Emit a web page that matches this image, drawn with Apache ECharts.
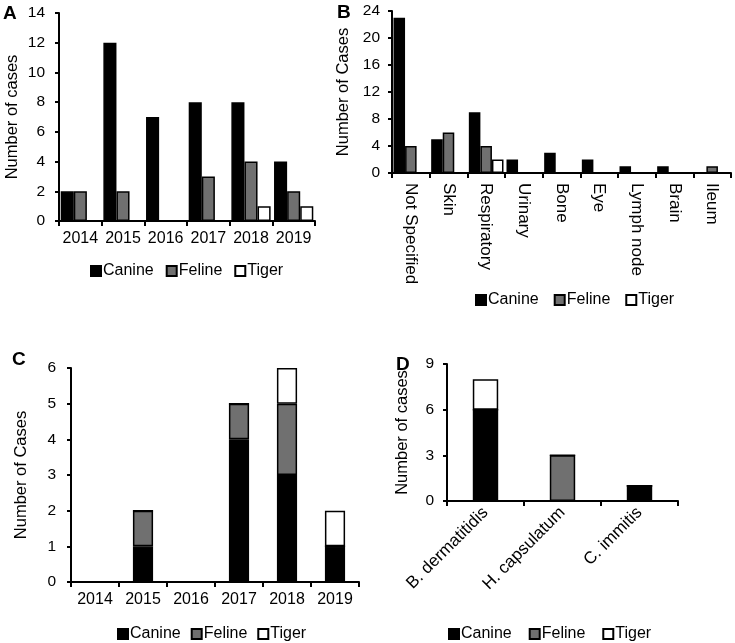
<!DOCTYPE html>
<html><head><meta charset="utf-8">
<script src="https://cdn.jsdelivr.net/npm/echarts@6/dist/echarts.min.js"></script>
<style>html,body{margin:0;padding:0;background:#fff}#c{width:735px;height:643px}</style>
</head><body><div id="c"></div>
<script>
// Panel A: cases per year
const yearsA = ['2014','2015','2016','2017','2018','2019'];
const canineA = [2, 12, 7, 8, 8, 4];
const felineA = [2, 2, 0, 3, 4, 2];
const tigerA  = [0, 0, 0, 0, 1, 1];
const ticksA = {min: 0, max: 14, interval: 2};

// Panel B: site of infection
const sitesB = ['Not Specified','Skin','Respiratory','Urinary','Bone','Eye','Lymph node','Brain','Ileum'];
const canineB = [23, 5, 9, 2, 3, 2, 1, 1, 0];
const felineB = [4, 6, 4, 0, 0, 0, 0, 0, 1];
const tigerB  = [0, 0, 2, 0, 0, 0, 0, 0, 0];
const ticksB = {min: 0, max: 24, interval: 4};

// Panel C: stacked per year
const yearsC = ['2014','2015','2016','2017','2018','2019'];
const canineC = [0, 1, 0, 4, 3, 1];
const felineC = [0, 1, 0, 1, 2, 0];
const tigerC  = [0, 0, 0, 0, 1, 1];
const ticksC = {min: 0, max: 6, interval: 1};

// Panel D: organism
const organismsD = ['B. dermatitidis','H. capsulatum','C. immitis'];
const canineD = [6, 0, 1];
const felineD = [0, 3, 0];
const tigerD  = [2, 0, 0];
const ticksD = {min: 0, max: 9, interval: 3};

const FONT = 'Liberation Sans, Arial, sans-serif';
const COLORS = {Canine: '#000000', Feline: '#707070', Tiger: '#ffffff'};
const axisLine = {show: true, lineStyle: {color: '#000', width: 2}};
const axisTick = {show: true, length: 5, lineStyle: {color: '#000', width: 2}};

function xAx(i, data, size, margin, rotate) {
  return {type: 'category', gridIndex: i, data: data,
    axisLine: axisLine, axisTick: axisTick,
    axisLabel: {color: '#000', fontSize: size, fontFamily: FONT, margin: margin, interval: 0, rotate: rotate || 0},
    splitLine: {show: false}};
}
function yAx(i, t, name, gap, margin) {
  return {type: 'value', gridIndex: i, min: t.min, max: t.max, interval: t.interval,
    name: name, nameLocation: 'middle', nameGap: gap,
    nameTextStyle: {color: '#000', fontSize: 16.5, fontFamily: FONT},
    axisLine: axisLine, axisTick: {show: true, length: 4, lineStyle: {color: '#000', width: 2}},
    axisLabel: {color: '#000', fontSize: 15.5, fontFamily: FONT, margin: margin},
    splitLine: {show: false}};
}
function bar(name, idx, data, opts) {
  return Object.assign({type: 'bar', name: name, xAxisIndex: idx, yAxisIndex: idx, data: data,
    itemStyle: {color: COLORS[name], borderColor: '#000', borderWidth: 1.5},
    emphasis: {disabled: true}, animation: false}, opts || {});
}
function legend(left, top, gap) {
  return {data: ['Canine','Feline','Tiger'], left: left, top: top, itemWidth: 10, itemHeight: 10,
    itemGap: gap, icon: 'rect', selectedMode: false, padding: 0,
    textStyle: {color: '#000', fontSize: 16, fontFamily: FONT, padding: [0,0,0,-3]}};
}

const chart = echarts.init(document.getElementById('c'), null, {renderer: 'canvas'});
chart.setOption({
  animation: false,
  backgroundColor: '#fff',
  textStyle: {fontFamily: FONT},
  grid: [
    {left: 59, top: 13, width: 256, height: 208},
    {left: 392, top: 11, width: 339, height: 162},
    {left: 71, top: 368, width: 288, height: 214},
    {left: 447, top: 364, width: 231, height: 137}
  ],
  xAxis: [
    xAx(0, yearsA, 16, 10),
    xAx(1, sitesB, 17, 10, -90),
    xAx(2, yearsC, 16, 10),
    xAx(3, organismsD, 17, 9, 45)
  ],
  yAxis: [
    yAx(0, ticksA, 'Number of cases', 38, 14),
    yAx(1, ticksB, 'Number of Cases', 40, 12),
    yAx(2, ticksC, 'Number of Cases', 41, 15),
    yAx(3, ticksD, 'Number of cases', 36, 13)
  ],
  legend: [legend(90, 263, 12), legend(475, 292, 15), legend(117, 626, 10), legend(448, 626, 17)],
  graphic: [
    {type: 'text', left: 3, top: 4, style: {text: 'A', font: 'bold 19px ' + FONT, fill: '#000'}},
    {type: 'text', left: 337, top: 3, style: {text: 'B', font: 'bold 19px ' + FONT, fill: '#000'}},
    {type: 'text', left: 12, top: 350, style: {text: 'C', font: 'bold 19px ' + FONT, fill: '#000'}},
    {type: 'text', left: 396, top: 355, style: {text: 'D', font: 'bold 19px ' + FONT, fill: '#000'}}
  ],
  series: [
    bar('Canine', 0, canineA, {barGap: '0%', barCategoryGap: '8%'}),
    bar('Feline', 0, felineA, {barGap: '0%', barCategoryGap: '8%'}),
    bar('Tiger', 0, tigerA, {barGap: '0%', barCategoryGap: '8%'}),
    bar('Canine', 1, canineB, {barGap: '0%', barCategoryGap: '8%'}),
    bar('Feline', 1, felineB, {barGap: '0%', barCategoryGap: '8%'}),
    bar('Tiger', 1, tigerB, {barGap: '0%', barCategoryGap: '8%'}),
    bar('Canine', 2, canineC, {stack: 'c', barWidth: '42%'}),
    bar('Feline', 2, felineC, {stack: 'c', barWidth: '42%'}),
    bar('Tiger', 2, tigerC, {stack: 'c', barWidth: '42%'}),
    bar('Canine', 3, canineD, {stack: 'd', barWidth: '33%'}),
    bar('Feline', 3, felineD, {stack: 'd', barWidth: '33%'}),
    bar('Tiger', 3, tigerD, {stack: 'd', barWidth: '33%'})
  ]
});
</script></body></html>
